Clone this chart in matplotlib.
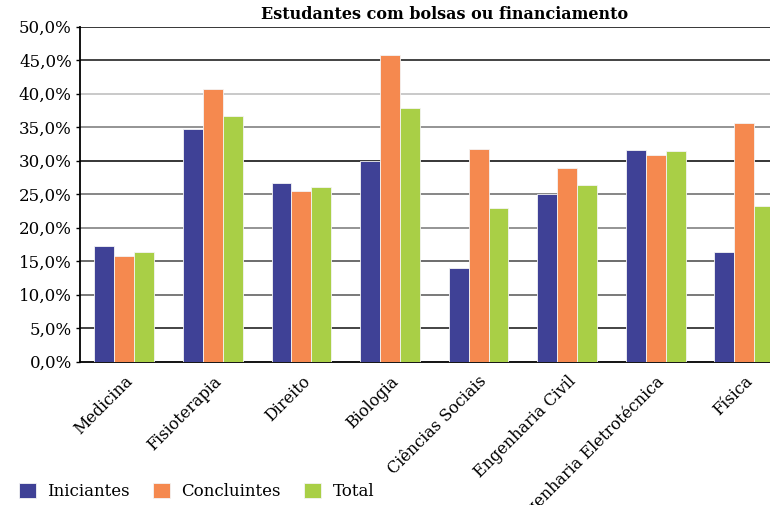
import matplotlib.pyplot as plt
import numpy as np

cursos = ['Medicina', 'Fisioterapia', 'Direito', 'Biologia', 'Ciências Sociais',
          'Engenharia Civil', 'Engenharia Eletrotécnica', 'Física']
iniciantes = [17.2, 34.7, 26.7, 29.9, 14.0, 25.0, 31.6, 16.4]
concluintes = [15.7, 40.7, 25.4, 45.8, 31.7, 28.9, 30.9, 35.7]
total = [16.3, 36.7, 26.1, 37.9, 22.9, 26.4, 31.4, 23.2]
y_ticks = [0, 5, 10, 15, 20, 25, 30, 35, 40, 45, 50]

plt.rcParams['font.family'] = ['DejaVu Serif']

fig = plt.figure(figsize=(7.7, 5.05), dpi=100)
ax = fig.add_axes([0.104, 0.284, 0.92, 0.663])

x = np.arange(len(cursos))
w = 0.225
series = [('Iniciantes', iniciantes, '#3f4196'),
          ('Concluintes', concluintes, '#f5894f'),
          ('Total', total, '#a9cf46')]
for i, (nome, vals, cor) in enumerate(series):
    ax.bar(x + (i - 1) * w, vals, w, color=cor, edgecolor='#f4f4f4',
           linewidth=0.6, label=nome, zorder=3)

ax.set_xlim(-0.5, len(cursos) - 0.5)
ax.set_ylim(0, 50)
ax.set_yticks(y_ticks)
ax.set_yticklabels([('%.1f%%' % v).replace('.', ',') for v in y_ticks], fontsize=12)
ax.set_xticks(x)
ax.set_xticklabels(cursos, rotation=45, ha='right', rotation_mode='anchor', fontsize=11.5)
ax.tick_params(axis='x', length=0, pad=8)
ax.tick_params(axis='y', length=3, width=1, pad=3)

# gridlines in the original have uneven shades
grid_cores = ['#000000', '#111111', '#555555', '#444444', '#777777', '#666666',
              '#000000', '#777777', '#bbbbbb', '#111111', '#000000']
for v, c in zip(y_ticks[1:], grid_cores[1:]):
    ax.axhline(v, color=c, linewidth=1.1, zorder=1)

for s in ['top', 'right']:
    ax.spines[s].set_visible(False)
ax.spines['left'].set_linewidth(1.3)
ax.spines['bottom'].set_linewidth(1.3)

fig.text(0.577, 0.955, 'Estudantes com bolsas ou financiamento', ha='center',
         va='bottom', fontsize=11.5, fontweight='bold')

fig.legend(loc='lower left', bbox_to_anchor=(0.005, -0.02), ncol=3, frameon=False,
           fontsize=12, handlelength=1.0, handleheight=1.0, handletextpad=0.7,
           columnspacing=1.4)

fig.savefig('out.png', dpi=100)
